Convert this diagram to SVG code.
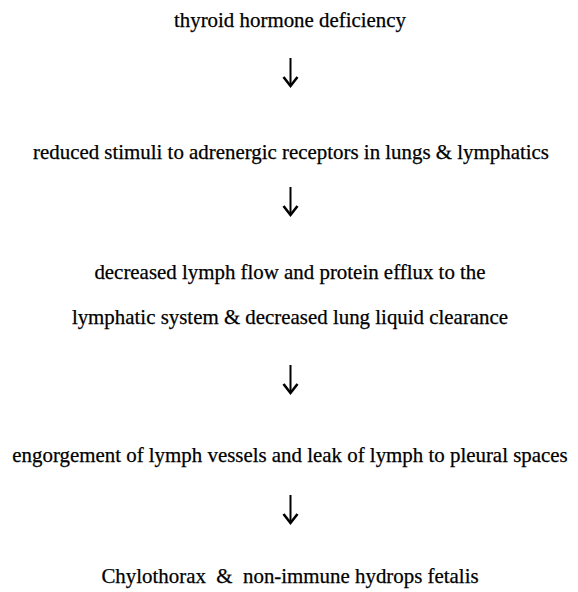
<svg xmlns="http://www.w3.org/2000/svg" width="578" height="592" viewBox="0 0 578 592">
<style>
.t{font-family:"Liberation Serif","Times New Roman",serif;font-size:20.9px;fill:#000;stroke:#000;stroke-width:0.25;text-anchor:middle}
.a{fill:none;stroke:#000;stroke-width:2}
.h{fill:none;stroke:#000;stroke-width:2.6;stroke-linejoin:miter}
</style>
<rect width="578" height="592" fill="#fff"/>
<g id="n1"><text class="t" x="290" y="27">thyroid hormone deficiency</text></g>
<g id="n2"><text class="t" x="291" y="159">reduced stimuli to adrenergic receptors in lungs &amp; lymphatics</text></g>
<g id="n3"><text class="t" x="290" y="279">decreased lymph flow and protein efflux to the</text><text class="t" x="290" y="324">lymphatic system &amp; decreased lung liquid clearance</text></g>
<g id="n4"><text class="t" x="290" y="462">engorgement of lymph vessels and leak of lymph to pleural spaces</text></g>
<g id="n5"><text class="t" x="290" y="583" xml:space="preserve">Chylothorax  &amp;  non-immune hydrops fetalis</text></g>
<g id="connectors">
<g transform="translate(290.5,58)"><path class="a" d="M0 0V27"/><path class="h" d="M-7 19L0 28L7 19"/></g>
<g transform="translate(290.5,187)"><path class="a" d="M0 0V27"/><path class="h" d="M-7 19L0 28L7 19"/></g>
<g transform="translate(290.5,365)"><path class="a" d="M0 0V27"/><path class="h" d="M-7 19L0 28L7 19"/></g>
<g transform="translate(290.5,495)"><path class="a" d="M0 0V27"/><path class="h" d="M-7 19L0 28L7 19"/></g>
</g>
</svg>
